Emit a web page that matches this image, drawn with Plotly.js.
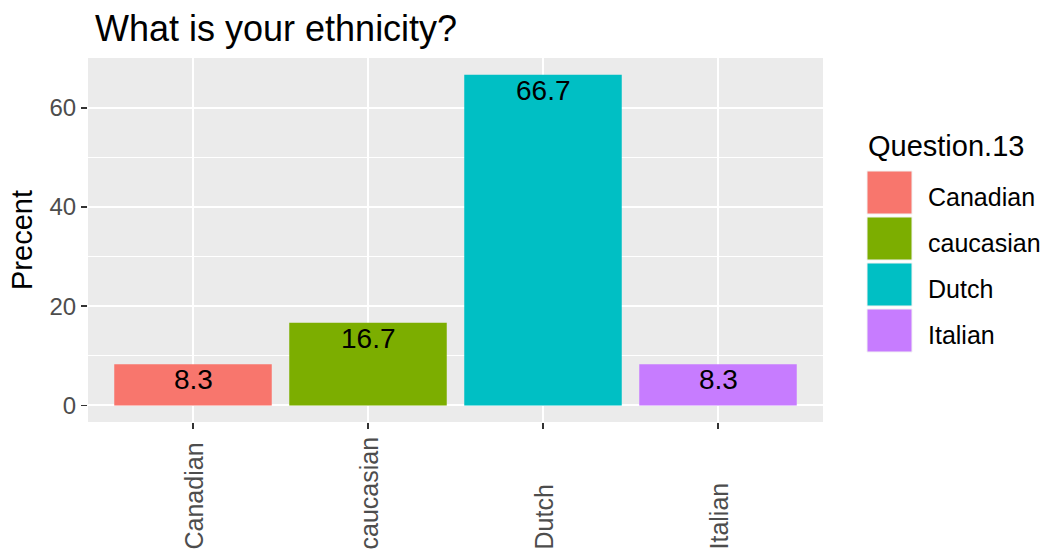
<!DOCTYPE html>
<html>
<head>
<meta charset="utf-8">
<script src="https://cdn.plot.ly/plotly-3.0.1.min.js"></script>
<style>html,body{margin:0;padding:0;background:#fff;}#chart{width:1046px;height:552px;}</style>
</head>
<body>
<div id="chart"></div>
<script>
const categories = ["Canadian", "caucasian", "Dutch", "Italian"];
const percents = [8.33, 16.67, 66.67, 8.33];
const barLabels = ["8.3", "16.7", "66.7", "8.3"];
const colors = ["#F8766D", "#7CAE00", "#00BFC4", "#C77CFF"];
const yTicks = [0, 20, 40, 60];
const titleText = "What is your ethnicity?";
const yTitle = "Precent";
const legendTitle = "Question.13";

const FONT = "Liberation Sans, Arial, sans-serif";
const W = 1046, H = 552;
const margin = {l: 88, r: 223, t: 58, b: 130};
const plotW = W - margin.l - margin.r;
const plotH = H - margin.t - margin.b;
const px2x = p => (p - margin.l) / plotW;
const px2y = p => (H - margin.b - p) / plotH;

const data = [{
  type: "bar",
  x: categories,
  y: percents,
  width: 0.9,
  marker: {color: colors, line: {width: 0}},
  hoverinfo: "x+y",
  showlegend: false
}];

const annotations = [];
// bar value labels
categories.forEach((c, i) => {
  annotations.push({
    x: c, y: percents[i], xref: "x", yref: "y",
    text: barLabels[i], showarrow: false,
    yanchor: "top", xanchor: "center", yshift: 2,
    font: {family: FONT, size: 28, color: "#000"}
  });
});
// rotated x category labels (bottom-aligned)
categories.forEach((c) => {
  annotations.push({
    x: c, y: px2y(552), xref: "x", yref: "paper",
    text: c, showarrow: false, textangle: -90,
    xanchor: "center", yanchor: "bottom",
    font: {family: FONT, size: 25, color: "#4D4D4D"}
  });
});
// legend title
annotations.push({
  x: px2x(866), y: px2y(146), xref: "paper", yref: "paper",
  text: legendTitle, showarrow: false, xanchor: "left", yanchor: "middle",
  font: {family: FONT, size: 29, color: "#000"}
});
const shapes = [];
const keyTop = 171, keyPitch = 46, keySize = 43;
categories.forEach((c, i) => {
  const top = keyTop + i * keyPitch;
  shapes.push({
    type: "rect", xref: "paper", yref: "paper",
    x0: px2x(867), x1: px2x(867 + 45),
    y0: px2y(top + keySize), y1: px2y(top),
    fillcolor: colors[i], line: {color: "#F2F2F2", width: 1}
  });
  annotations.push({
    x: px2x(926), y: px2y(top + keySize / 2 + 4), xref: "paper", yref: "paper",
    text: c, showarrow: false, xanchor: "left", yanchor: "middle",
    font: {family: FONT, size: 25, color: "#000"}
  });
});

const layout = {
  width: W, height: H,
  margin: margin,
  paper_bgcolor: "#FFFFFF",
  plot_bgcolor: "#EBEBEB",
  font: {family: FONT, color: "#000"},
  title: {
    text: titleText, x: 95 / W, xref: "container", xanchor: "left",
    y: 1 - 28 / H, yref: "container", yanchor: "middle",
    font: {family: FONT, size: 36, color: "#000"}
  },
  xaxis: {
    type: "category",
    range: [-0.6, 3.6],
    showgrid: true, gridcolor: "#FFFFFF", gridwidth: 2,
    zeroline: false, showline: false,
    ticks: "outside", ticklen: 6, tickwidth: 1.5, tickcolor: "#333333",
    showticklabels: false,
    fixedrange: true
  },
  yaxis: {
    range: [-3.335, 70.035],
    tickvals: yTicks,
    ticktext: yTicks.map(String),
    showgrid: true, gridcolor: "#FFFFFF", gridwidth: 2,
    minor: {tickvals: [10, 30, 50], showgrid: true, gridcolor: "#FFFFFF", gridwidth: 1, ticks: ""},
    zeroline: false, showline: false,
    ticks: "outside", ticklen: 6, tickwidth: 1.5, tickcolor: "#333333",
    tickfont: {family: FONT, size: 24, color: "#4D4D4D"},
    title: {text: yTitle, standoff: 8, font: {family: FONT, size: 29, color: "#000"}},
    fixedrange: true
  },
  bargap: 0.1,
  showlegend: false,
  annotations: annotations,
  shapes: shapes
};

Plotly.newPlot("chart", data, layout, {displayModeBar: false, staticPlot: true});
</script>
</body>
</html>
